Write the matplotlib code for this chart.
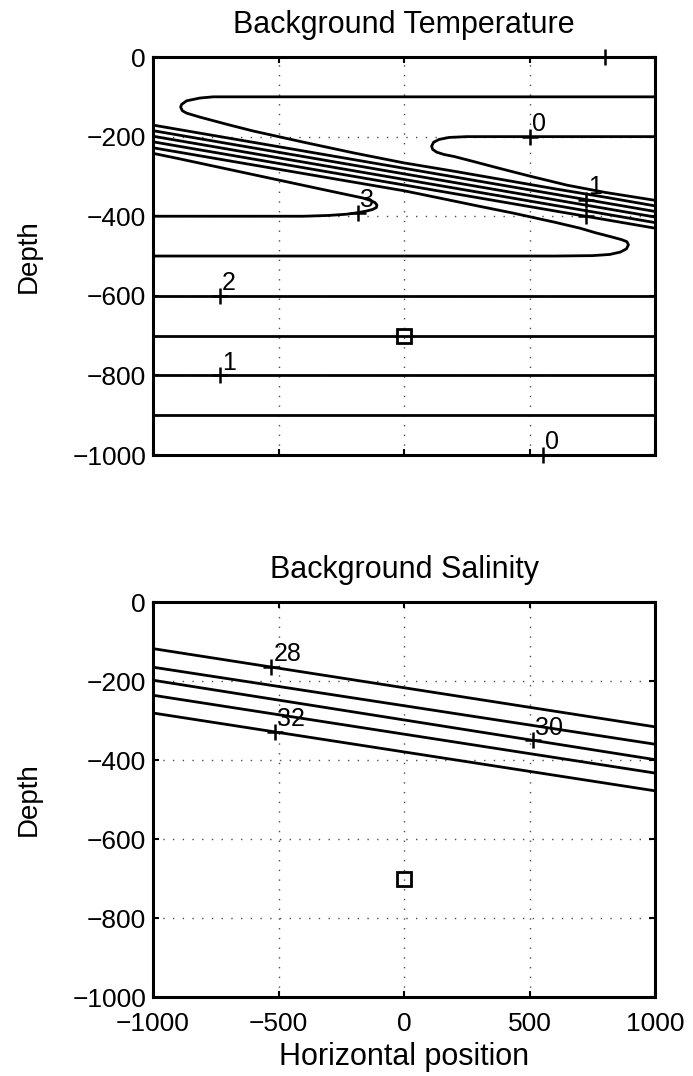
import numpy as np
import matplotlib
matplotlib.use("Agg")
import matplotlib.pyplot as plt

plt.rcParams['font.family'] = ['Liberation Sans', 'DejaVu Sans']

# ---- temperature section: contour lines traced as (x, depth) vertices ----
# level 0.5: surface layer line at -100 that folds back along the front
t05_x = [1000, -760, -813, -866, -886, -890, -883, -866, -813, -700, -600, -400,
         -200, 0, 200, 400, 600, 800, 1000]
t05_y = [-100, -100, -103, -110, -119, -126, -135, -141, -151, -170, -186, -214,
         -241, -266, -287, -309, -331, -352, -374]

# level 0: line at -200 on the right folding back above the front
t0_x = [1000, 250, 180, 140, 118, 110, 114, 130, 160, 200, 280, 382, 500, 650, 800, 1000]
t0_y = [-200, -200, -202, -207, -214, -224, -232, -239, -245, -250, -263, -280,
        -299, -322, -340, -360]

# level 3: line at -400 on the left folding back below the front
t3_x = [-1000, -400, -300, -230, -183, -150, -125, -110, -108, -115, -135, -165,
        -300, -500, -700, -900, -1000]
t3_y = [-400, -400, -398, -395, -391, -387, -383, -378, -372, -366, -360, -354,
        -336, -309, -282, -255, -242]

# level 2.5: line at -500 folding back below the front on the right
t25_x = [-1000, 600, 750, 820, 862, 886, 894, 888, 868, 833, 760, 701, 600, 434,
         300, 170, 0, -500, -1000]
t25_y = [-500, -500, -499, -496, -490, -482, -472, -464, -459, -453, -441, -430,
         -415, -392, -375, -358, -336, -282, -228]

# straight contours crossing the sloping front
front_left = [-171, -185, -199, -213]
front_right = [-388, -402, -416, -430]

# flat deep contours
flat_depths = [-600, -700, -800, -900]

# clabel positions and text
t_lab_x = [500, -183, 726, -733, -733, 554]
t_lab_y = [-200, -391, -358, -600, -800, -1000]
t_lab_txt = ['0', '3', '1', '2', '1', '0']
t_mark_x = [726, 801]
t_mark_y = [-400, 0]

# ---- salinity section ----
sal_levels = [28, 29, 30, 31, 32]
sal_left = [-118, -165, -198, -236, -281]
sal_right = [-316, -360, -399, -433, -478]
sal_lab_x = [-529, -515, 515]
sal_lab_lev = [28, 32, 30]

edge_x = [-1000, 1000]
point_x, point_y = [0], [-700]

LW = 2.0
TICK_FS = 19
LABEL_FS = 22
CLAB_FS = 18


def style_axes(ax):
    ax.set_xlim(-1000, 1000)
    ax.set_ylim(-1000, 0)
    ax.set_xticks([-1000, -500, 0, 500, 1000])
    ax.set_yticks([-1000, -800, -600, -400, -200, 0])
    ax.grid(True, linestyle=(0, (1, 6)), color='0.3', linewidth=1.0)
    ax.set_axisbelow(True)
    for s in ax.spines.values():
        s.set_linewidth(2.2)
    ax.tick_params(direction='in', top=True, right=True, length=4, width=1.5,
                   labelsize=TICK_FS, pad=5)
    ax.tick_params(axis='x', pad=11)
    ax.set_ylabel('Depth', fontsize=LABEL_FS - 2, labelpad=22)


def clabel(ax, x, y, txt):
    ax.plot(x, y, '+', color='k', ms=12, mew=1.8, clip_on=False, zorder=4)
    if txt:
        ax.annotate(txt, (x, y), xytext=(1.5, 4), textcoords='offset points',
                    ha='left', va='baseline', fontsize=CLAB_FS, zorder=5)


fig = plt.figure(figsize=(6.93, 10.76), dpi=100)
ax1 = fig.add_axes([0.2208, 0.5771, 0.7244, 0.3699])
ax2 = fig.add_axes([0.2208, 0.0734, 0.7244, 0.3671])

# temperature
for xs, ys in [(t05_x, t05_y), (t0_x, t0_y), (t3_x, t3_y), (t25_x, t25_y)]:
    ax1.plot(xs, ys, color='k', lw=LW)
for yl, yr in zip(front_left, front_right):
    ax1.plot(edge_x, [yl, yr], color='k', lw=LW)
for d in flat_depths:
    ax1.plot(edge_x, [d, d], color='k', lw=LW)
for x, y, t in zip(t_lab_x, t_lab_y, t_lab_txt):
    clabel(ax1, x, y, t)
for x, y in zip(t_mark_x, t_mark_y):
    clabel(ax1, x, y, None)
ax1.plot(point_x, point_y, 's', ms=10, mfc='none', mec='k', mew=2, zorder=5)
style_axes(ax1)
ax1.tick_params(labelbottom=False)
ax1.set_title('Background Temperature', fontsize=LABEL_FS, pad=17)

# salinity
for yl, yr in zip(sal_left, sal_right):
    ax2.plot(edge_x, [yl, yr], color='k', lw=LW)
for x, lev in zip(sal_lab_x, sal_lab_lev):
    i = sal_levels.index(lev)
    y = np.interp(x, edge_x, [sal_left[i], sal_right[i]])
    clabel(ax2, x, y, str(lev))
ax2.plot(point_x, point_y, 's', ms=10, mfc='none', mec='k', mew=2, zorder=5)
style_axes(ax2)
ax2.set_title('Background Salinity', fontsize=LABEL_FS, pad=17)
ax2.set_xlabel('Horizontal position', fontsize=LABEL_FS, labelpad=4)

fig.savefig('out.png', dpi=100)
